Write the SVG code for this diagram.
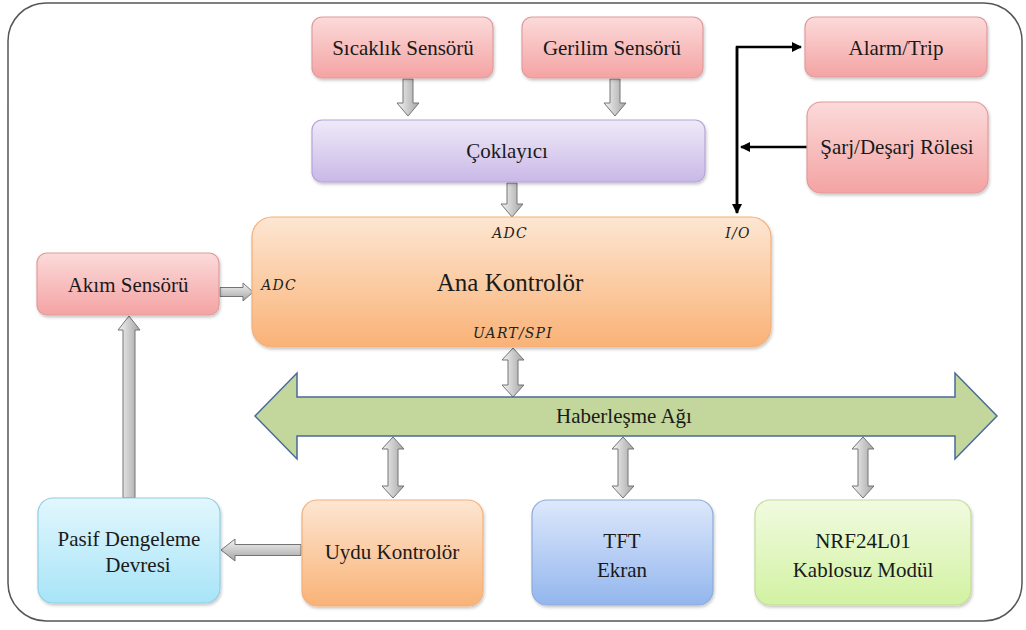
<svg xmlns="http://www.w3.org/2000/svg" width="1026" height="630" viewBox="0 0 1026 630">
<defs>
<linearGradient id="gRed" x1="0" y1="0" x2="0" y2="1"><stop offset="0" stop-color="#fcdada"/><stop offset="1" stop-color="#f4a3a3"/></linearGradient>
<linearGradient id="gPur" x1="0" y1="0" x2="0" y2="1"><stop offset="0" stop-color="#efeaf8"/><stop offset="1" stop-color="#c9b8e8"/></linearGradient>
<linearGradient id="gOra" x1="0" y1="0" x2="0" y2="1"><stop offset="0" stop-color="#fde6d2"/><stop offset="1" stop-color="#f9b276"/></linearGradient>
<linearGradient id="gCya" x1="0" y1="0" x2="0" y2="1"><stop offset="0" stop-color="#e2f7fd"/><stop offset="1" stop-color="#a8e4f8"/></linearGradient>
<linearGradient id="gBlu" x1="0" y1="0" x2="0" y2="1"><stop offset="0" stop-color="#dde8fb"/><stop offset="1" stop-color="#93b6ee"/></linearGradient>
<linearGradient id="gGrn" x1="0" y1="0" x2="0" y2="1"><stop offset="0" stop-color="#f1fbe0"/><stop offset="1" stop-color="#d2f2a2"/></linearGradient>
<linearGradient id="gGreyV" x1="0" y1="0" x2="1" y2="0"><stop offset="0" stop-color="#f4f4f4"/><stop offset="1" stop-color="#a4a4a4"/></linearGradient>
<linearGradient id="gGreyH" x1="0" y1="0" x2="0" y2="1"><stop offset="0" stop-color="#f4f4f4"/><stop offset="1" stop-color="#a4a4a4"/></linearGradient>
<filter id="sh" x="-10%" y="-10%" width="120%" height="130%"><feDropShadow dx="1" dy="2" stdDeviation="1.5" flood-color="#000" flood-opacity="0.22"/></filter>
<marker id="ah" viewBox="0 0 10 10" refX="9" refY="5" markerWidth="4" markerHeight="4" orient="auto"><path d="M0,0 L10,5 L0,10 Z" fill="#000"/></marker>
</defs>
<style>
.t{font-family:"Liberation Serif","Times New Roman",serif;font-size:21px;fill:#1a1a1a;text-anchor:middle}
.big{font-size:25px}
.pin{font-family:"DejaVu Serif",serif;font-style:italic;font-size:14px;fill:#222;text-anchor:middle;letter-spacing:1.2px}
.red{fill:url(#gRed);stroke:#df9c9c;stroke-width:1.2;filter:url(#sh)}
.pur{fill:url(#gPur);stroke:#b6a4d8;stroke-width:1.2;filter:url(#sh)}
.ora{fill:url(#gOra);stroke:#f2b07a;stroke-width:1.2;filter:url(#sh)}
.cya{fill:url(#gCya);stroke:#90cfe2;stroke-width:1.2;filter:url(#sh)}
.blu{fill:url(#gBlu);stroke:#8eabd8;stroke-width:1.2;filter:url(#sh)}
.grn{fill:url(#gGrn);stroke:#c2dc98;stroke-width:1.2;filter:url(#sh)}
.ga{fill:url(#gGreyV);stroke:#747474;stroke-width:1}
.gh{fill:url(#gGreyH);stroke:#747474;stroke-width:1}
.blk{fill:none;stroke:#000;stroke-width:2.5}
</style>
<rect x="8" y="3" width="1014" height="618" rx="38" fill="#fff" stroke="#555" stroke-width="1.5"/>

<g id="connectors">
<path class="ga" d="M403,79 H413 V103 H419 L408,116 L397,103 H403 Z"/>
<path class="ga" d="M610,79 H620 V103 H626 L615,116 L604,103 H610 Z"/>
<path class="ga" d="M507,183 H517 V204 H523 L512,217 L501,204 H507 Z"/>
<path class="ga" d="M513,348 L524,360 H518 V385 H524 L513,397 L502,385 H508 V360 H502 Z"/>
<path class="ga" d="M393,437 L404,449 H398 V486 H404 L393,498 L382,486 H388 V449 H382 Z"/>
<path class="ga" d="M623,437 L634,449 H628 V486 H634 L623,498 L612,486 H618 V449 H612 Z"/>
<path class="ga" d="M863,437 L874,449 H868 V486 H874 L863,498 L852,486 H858 V449 H852 Z"/>
<path class="gh" d="M220,287.5 H243 V283 L253,292 L243,301 V296.5 H220 Z"/>
<path class="ga" d="M123,498 V330 H118 L129,316 L140,330 H135 V498 Z"/>
<path class="gh" d="M301,544.5 H235 V539 L221,550 L235,561 V555.5 H301 Z"/>
<path class="blk" d="M737,213 V47 H801" marker-end="url(#ah)"/>
<path class="blk" d="M737,47 V213" marker-end="url(#ah)"/>
<path class="blk" d="M807,147 H741" marker-end="url(#ah)"/>
</g>

<g id="sicaklik"><rect class="red" x="312" y="17" width="181" height="61" rx="10"/><text class="t" x="403" y="55">Sıcaklık Sensörü</text></g>
<g id="gerilim"><rect class="red" x="522" y="17" width="181" height="61" rx="10"/><text class="t" x="612" y="55">Gerilim Sensörü</text></g>
<g id="alarm"><rect class="red" x="805" y="17" width="182" height="60" rx="10"/><text class="t" x="896" y="55">Alarm/Trip</text></g>
<g id="sarj"><rect class="red" x="807" y="102" width="181" height="91" rx="14"/><text class="t" x="897" y="154">Şarj/Deşarj Rölesi</text></g>
<g id="coklayici"><rect class="pur" x="312" y="120" width="393" height="62" rx="10"/><text class="t" x="507" y="158">Çoklayıcı</text></g>
<g id="ana"><rect class="ora" x="252" y="217" width="519" height="130" rx="20"/>
<text class="t big" x="510" y="291">Ana Kontrolör</text>
<text class="pin" x="510" y="238">ADC</text>
<text class="pin" x="738" y="238">I/O</text>
<text class="pin" x="279" y="290">ADC</text>
<text class="pin" x="513" y="338">UART/SPI</text></g>
<g id="akim"><rect class="red" x="37" y="253" width="182" height="62" rx="10"/><text class="t" x="128" y="292">Akım Sensörü</text></g>
<g id="haberlesme"><path d="M255,416 L297,373 V397 H955 V373 L997,416 L955,459 V436 H297 V459 Z" fill="#c3d69b" stroke="#4a6a9c" stroke-width="1.5"/><text class="t" x="624" y="423">Haberleşme Ağı</text></g>
<g id="pasif"><rect class="cya" x="38" y="498" width="182" height="105" rx="15"/><text class="t" x="129" y="546">Pasif Dengeleme</text><text class="t" x="138" y="572">Devresi</text></g>
<g id="uydu"><rect class="ora" x="302" y="500" width="181" height="106" rx="15"/><text class="t" x="392" y="559">Uydu Kontrolör</text></g>
<g id="tft"><rect class="blu" x="532" y="500" width="181" height="105" rx="15"/><text class="t" x="622" y="548">TFT</text><text class="t" x="622" y="577">Ekran</text></g>
<g id="nrf"><rect class="grn" x="755" y="500" width="216" height="105" rx="15"/><text class="t" x="863" y="548">NRF24L01</text><text class="t" x="863" y="577">Kablosuz Modül</text></g>
</svg>
